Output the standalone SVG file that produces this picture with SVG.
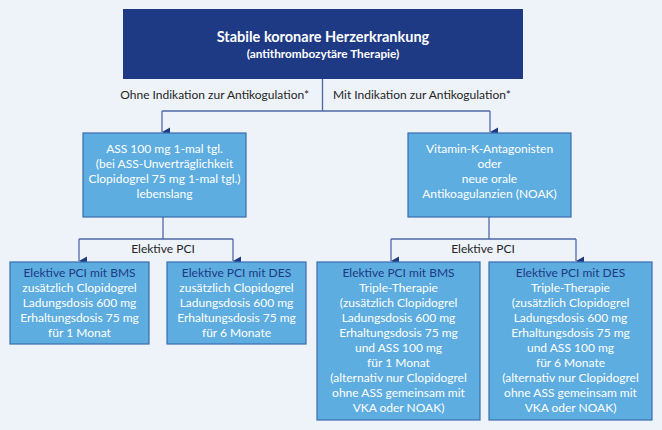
<svg xmlns="http://www.w3.org/2000/svg" width="662" height="430" viewBox="0 0 662 430">
<defs>
<marker id="arr" markerUnits="userSpaceOnUse" markerWidth="10" markerHeight="9" refX="5" refY="8" orient="auto-start-reverse" viewBox="0 0 10 9">
<path d="M0.5,0 L9.5,0 L5,8 Z" fill="#1e3a85"/>
</marker>
<style>
.bg{fill:#eef2f9}
.top{fill:#1e3a85}
.box{fill:#5dade0;stroke:#3b6cb0;stroke-width:1.2}
.ln{fill:none;stroke:#5068a8;stroke-width:1.3}
.ar{fill:none;stroke:#5068a8;stroke-width:1.3;marker-end:url(#arr)}
text{font-family:Lato,"Open Sans","Liberation Sans",sans-serif;text-anchor:middle}
.t1{font-size:14.5px;font-weight:bold;fill:#ffffff}
.t2{font-size:11.8px;font-weight:bold;fill:#ffffff}
.lb{font-size:12px;fill:#262626}
.w{font-size:12px;fill:#ffffff}
.h{font-size:12px;fill:#1e3a85}
</style>
</defs>
<rect class="bg" x="0" y="0" width="662" height="430"/>
<g id="connectors">
<path class="ln" d="M322.5,79 V111 M162,111 H490"/>
<path class="ar" d="M162,111 V132"/>
<path class="ar" d="M490,111 V132"/>
<path class="ln" d="M163,217 V239 M79,239 H233"/>
<path class="ar" d="M79,239 V261"/>
<path class="ar" d="M233,239 V261"/>
<path class="ln" d="M489,217 V239 M391,239 H576"/>
<path class="ar" d="M391,239 V261"/>
<path class="ar" d="M576,239 V261"/>
<text class="lb" x="309" y="99" style="text-anchor:end">Ohne Indikation zur Antikogulation*</text>
<text class="lb" x="333" y="99" style="text-anchor:start">Mit Indikation zur Antikogulation*</text>
<text class="lb" x="163" y="253">Elektive PCI</text>
<text class="lb" x="483" y="253">Elektive PCI</text>
</g>
<g id="n-top">
<rect class="top" x="123" y="9" width="400" height="70"/>
<text class="t1" x="323" y="42">Stabile koronare Herzerkrankung</text>
<text class="t2" x="323" y="58">(antithrombozytäre Therapie)</text>
</g>
<g id="n-ass">
<rect class="box" x="83" y="133" width="163" height="84"/>
<text class="w" x="164.5" y="153">ASS 100 mg 1-mal tgl.</text>
<text class="w" x="164.5" y="168">(bei ASS-Unverträglichkeit</text>
<text class="w" x="164.5" y="183">Clopidogrel 75 mg 1-mal tgl.)</text>
<text class="w" x="164.5" y="198">lebenslang</text>
</g>
<g id="n-vka">
<rect class="box" x="408" y="133" width="163" height="84"/>
<text class="w" x="489.5" y="153">Vitamin-K-Antagonisten</text>
<text class="w" x="489.5" y="168">oder</text>
<text class="w" x="489.5" y="183">neue orale</text>
<text class="w" x="489.5" y="198">Antikoagulanzien (NOAK)</text>
</g>
<g id="n-bms1">
<rect class="box" x="10" y="262" width="139" height="82"/>
<text class="h" x="79.5" y="277">Elektive PCI mit BMS</text>
<text class="w" x="79.5" y="292">zusätzlich Clopidogrel</text>
<text class="w" x="79.5" y="307">Ladungsdosis 600 mg</text>
<text class="w" x="79.5" y="322">Erhaltungsdosis 75 mg</text>
<text class="w" x="79.5" y="337">für 1 Monat</text>
</g>
<g id="n-des1">
<rect class="box" x="167" y="262" width="139" height="82"/>
<text class="h" x="236.5" y="277">Elektive PCI mit DES</text>
<text class="w" x="236.5" y="292">zusätzlich Clopidogrel</text>
<text class="w" x="236.5" y="307">Ladungsdosis 600 mg</text>
<text class="w" x="236.5" y="322">Erhaltungsdosis 75 mg</text>
<text class="w" x="236.5" y="337">für 6 Monate</text>
</g>
<g id="n-bms2">
<rect class="box" x="317" y="262" width="163" height="158"/>
<text class="h" x="398.5" y="277">Elektive PCI mit BMS</text>
<text class="w" x="398.5" y="292">Triple-Therapie</text>
<text class="w" x="398.5" y="307">(zusätzlich Clopidogrel</text>
<text class="w" x="398.5" y="322">Ladungsdosis 600 mg</text>
<text class="w" x="398.5" y="337">Erhaltungsdosis 75 mg</text>
<text class="w" x="398.5" y="352">und ASS 100 mg</text>
<text class="w" x="398.5" y="367">für 1 Monat</text>
<text class="w" x="398.5" y="382">(alternativ nur Clopidogrel</text>
<text class="w" x="398.5" y="397">ohne ASS gemeinsam mit</text>
<text class="w" x="398.5" y="412">VKA oder NOAK)</text>
</g>
<g id="n-des2">
<rect class="box" x="489" y="262" width="163" height="158"/>
<text class="h" x="570.5" y="277">Elektive PCI mit DES</text>
<text class="w" x="570.5" y="292">Triple-Therapie</text>
<text class="w" x="570.5" y="307">(zusätzlich Clopidogrel</text>
<text class="w" x="570.5" y="322">Ladungsdosis 600 mg</text>
<text class="w" x="570.5" y="337">Erhaltungsdosis 75 mg</text>
<text class="w" x="570.5" y="352">und ASS 100 mg</text>
<text class="w" x="570.5" y="367">für 6 Monate</text>
<text class="w" x="570.5" y="382">(alternativ nur Clopidogrel</text>
<text class="w" x="570.5" y="397">ohne ASS gemeinsam mit</text>
<text class="w" x="570.5" y="412">VKA oder NOAK)</text>
</g>
</svg>
